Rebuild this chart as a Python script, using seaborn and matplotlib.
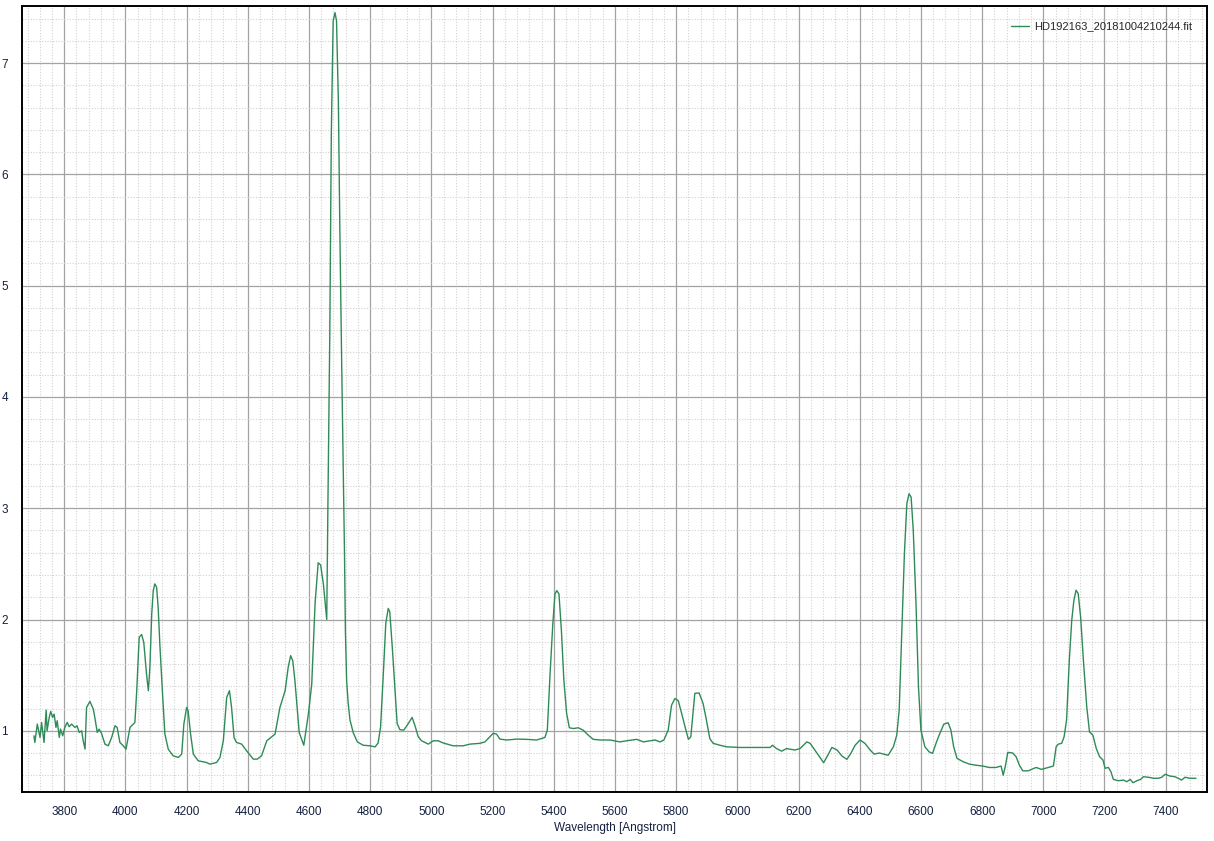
import numpy as np
import pandas as pd
import matplotlib
matplotlib.use("Agg")
import matplotlib.pyplot as plt
import seaborn as sns
from matplotlib.ticker import MultipleLocator

# ---- data (wavelength [A], relative intensity) ----
blue_noise = [(3701, 0.955), (3704, 0.895), (3712, 1.06), (3721, 0.94), (3726, 1.075), (3734, 0.895),
              (3741, 1.186), (3744, 1.0), (3751, 1.12), (3756, 1.174), (3762, 1.12), (3767, 1.15),
              (3773, 1.03), (3777, 1.09), (3784, 0.94), (3788, 1.015), (3795, 0.955), (3802, 1.03),
              (3810, 1.075), (3816, 1.036), (3824, 1.06), (3835, 1.03), (3842, 1.045), (3849, 0.985),
              (3857, 1.0), (3862, 0.91), (3868, 0.835)]

blue_lines = [(3873, 1.21), (3884, 1.264), (3895, 1.195), (3900, 1.12), (3908, 0.985), (3914, 1.015),
              (3922, 0.976), (3933, 0.88), (3944, 0.865), (3955, 0.94), (3966, 1.045), (3973, 1.03),
              (3982, 0.895), (3993, 0.865), (4002, 0.835), (4015, 1.03), (4026, 1.06), (4031, 1.075),
              (4037, 1.36), (4045, 1.84), (4053, 1.865), (4060, 1.795), (4069, 1.51), (4075, 1.36),
              (4080, 1.57), (4086, 2.05), (4091, 2.26), (4096, 2.32), (4102, 2.29), (4107, 2.11),
              (4113, 1.75), (4122, 1.30), (4129, 0.97), (4140, 0.835), (4156, 0.775), (4173, 0.76),
              (4184, 0.79), (4191, 1.06), (4200, 1.21), (4205, 1.18), (4213, 0.97), (4222, 0.79),
              (4238, 0.73), (4265, 0.715), (4276, 0.70), (4298, 0.715), (4309, 0.76), (4320, 0.91),
              (4331, 1.30), (4340, 1.36), (4347, 1.21), (4355, 0.94), (4363, 0.895), (4380, 0.88),
              (4396, 0.82), (4418, 0.745), (4431, 0.745), (4445, 0.775), (4462, 0.91), (4489, 0.97),
              (4505, 1.21), (4522, 1.36), (4532, 1.57), (4540, 1.675), (4547, 1.63), (4554, 1.45),
              (4568, 0.985), (4583, 0.87)]

heii_4686 = [(4598, 1.15), (4609, 1.42), (4620, 2.15), (4630, 2.51), (4638, 2.49), (4647, 2.32),
             (4658, 2.0), (4662, 3.07), (4668, 4.57), (4673, 6.37), (4679, 7.38), (4685, 7.455),
             (4690, 7.38), (4696, 6.66), (4701, 5.47), (4707, 4.27), (4712, 3.37), (4716, 2.6),
             (4719, 1.9), (4723, 1.45), (4728, 1.25), (4734, 1.096), (4745, 0.98), (4758, 0.90),
             (4777, 0.87), (4799, 0.865), (4816, 0.855), (4826, 0.89)]

green_region = [(4834, 1.035), (4843, 1.515), (4851, 1.965), (4859, 2.10), (4864, 2.07), (4873, 1.72),
                (4881, 1.365), (4888, 1.066), (4897, 1.01), (4910, 1.006), (4921, 1.05), (4937, 1.12),
                (4946, 1.05), (4957, 0.946), (4968, 0.91), (4990, 0.88), (5006, 0.91), (5022, 0.91),
                (5039, 0.89), (5071, 0.865), (5104, 0.865), (5126, 0.88), (5159, 0.887), (5175, 0.90),
                (5191, 0.946), (5202, 0.977), (5213, 0.97), (5224, 0.925), (5246, 0.917), (5279, 0.925),
                (5311, 0.923), (5344, 0.917), (5371, 0.94), (5379, 1.006), (5388, 1.515), (5397, 1.965),
                (5404, 2.23), (5410, 2.26), (5417, 2.23), (5425, 1.90), (5433, 1.455), (5442, 1.156),
                (5451, 1.027), (5464, 1.02), (5480, 1.027), (5496, 1.006), (5513, 0.96), (5529, 0.923),
                (5551, 0.917), (5584, 0.917), (5616, 0.90), (5638, 0.91), (5671, 0.923), (5693, 0.90),
                (5731, 0.917), (5747, 0.90), (5760, 0.917), (5774, 1.006), (5785, 1.23), (5796, 1.29),
                (5807, 1.27), (5818, 1.156), (5829, 1.036), (5840, 0.923), (5848, 0.946), (5855, 1.156),
                (5861, 1.336), (5875, 1.34), (5888, 1.246), (5899, 1.096), (5910, 0.93), (5921, 0.887),
                (5943, 0.87), (5965, 0.856)]

red_region = [(6008, 0.85), (6063, 0.85), (6107, 0.85), (6115, 0.87), (6128, 0.84), (6145, 0.817),
              (6161, 0.84), (6188, 0.827), (6205, 0.84), (6227, 0.90), (6238, 0.887), (6260, 0.80),
              (6282, 0.713), (6293, 0.767), (6309, 0.85), (6326, 0.827), (6342, 0.773), (6358, 0.743),
              (6371, 0.797), (6385, 0.87), (6401, 0.917), (6417, 0.887), (6434, 0.827), (6447, 0.79),
              (6464, 0.80), (6479, 0.79), (6493, 0.78), (6510, 0.856), (6521, 0.96), (6529, 1.186),
              (6537, 1.845), (6546, 2.59), (6554, 3.04), (6561, 3.13), (6568, 3.10), (6575, 2.80),
              (6584, 2.14), (6592, 1.395), (6600, 1.006), (6613, 0.856), (6627, 0.81), (6638, 0.797),
              (6651, 0.90), (6662, 0.977), (6675, 1.06), (6689, 1.072), (6698, 1.006), (6707, 0.856),
              (6718, 0.752), (6738, 0.722), (6759, 0.70), (6781, 0.69), (6802, 0.683), (6824, 0.67)]

far_red = [(6845, 0.67), (6862, 0.683), (6869, 0.60), (6876, 0.683), (6884, 0.806), (6900, 0.80),
           (6911, 0.767), (6922, 0.69), (6933, 0.64), (6951, 0.64), (6967, 0.66), (6977, 0.67),
           (6994, 0.653), (7016, 0.67), (7033, 0.683), (7042, 0.856), (7049, 0.88), (7060, 0.887),
           (7068, 0.946), (7076, 1.096), (7085, 1.635), (7093, 1.994), (7100, 2.173), (7107, 2.263),
           (7114, 2.233), (7122, 2.023), (7131, 1.635), (7142, 1.215), (7151, 0.99), (7162, 0.96),
           (7173, 0.842), (7184, 0.767), (7195, 0.737), (7202, 0.663), (7213, 0.67), (7221, 0.632),
           (7229, 0.563), (7245, 0.551), (7262, 0.557), (7273, 0.542), (7284, 0.563), (7293, 0.533),
           (7306, 0.551), (7318, 0.563), (7327, 0.587), (7344, 0.582), (7360, 0.573), (7376, 0.573),
           (7387, 0.582), (7398, 0.609), (7414, 0.593), (7430, 0.587), (7441, 0.573), (7452, 0.557),
           (7463, 0.582), (7479, 0.573), (7499, 0.573)]

series_name = "HD192163_20181004210244.fit"
x_label = "Wavelength [Angstrom]"
y_label = "Intensity"

points = blue_noise + blue_lines + heii_4686 + green_region + red_region + far_red
df = pd.DataFrame(points, columns=["Wavelength", "Intensity"])
df["Spectrum"] = series_name

sns.set_theme(style="white")
plt.rcParams["font.family"] = ["Liberation Sans", "DejaVu Sans"]

fig = plt.figure(figsize=(12.14, 8.41), dpi=100)
fig.patch.set_facecolor("white")
ax = fig.add_axes([0.01812, 0.05791, 0.97636, 0.93496])

sns.lineplot(data=df, x="Wavelength", y="Intensity", hue="Spectrum", palette=["#2e8b57"],
             linewidth=1.0, sort=False, estimator=None, ax=ax)

ax.set_xlim(3662, 7536)
ax.set_ylim(0.447, 7.514)
ax.xaxis.set_major_locator(MultipleLocator(200))
ax.xaxis.set_minor_locator(MultipleLocator(40))
ax.yaxis.set_major_locator(MultipleLocator(1))
ax.yaxis.set_minor_locator(MultipleLocator(0.2))

ax.grid(which="major", color="#a3a3a3", linewidth=0.9, linestyle="-")
ax.grid(which="minor", color="#d2d2d2", linewidth=0.8, linestyle=(0, (1, 1.5)))
ax.set_axisbelow(True)

ax.tick_params(which="both", direction="out", length=4, width=1, color="black",
               labelcolor="#142040", labelsize=8.5, pad=6)
for sp in ax.spines.values():
    sp.set_visible(True)
    sp.set_color("black")
    sp.set_linewidth(1.4)

ax.set_xlabel(x_label, fontsize=8.5, color="#142040", labelpad=3)
ax.set_ylabel(y_label, fontsize=8.5, color="#142040")
ax.yaxis.set_label_coords(-0.021, 0.5)

handles, labels = ax.get_legend_handles_labels()
ax.legend(handles, labels, loc="upper right", frameon=False, fontsize=8,
          handlelength=1.6, handletextpad=0.5, bbox_to_anchor=(0.991, 0.986), borderaxespad=0.0)

fig.savefig("out.png", dpi=100, facecolor="white")
